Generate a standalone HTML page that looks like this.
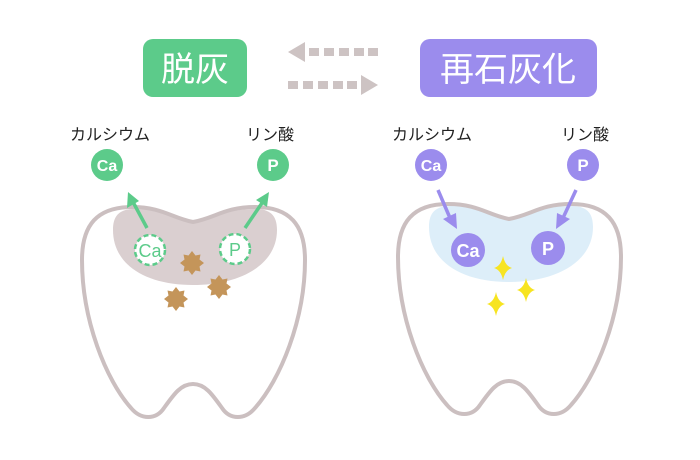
<!DOCTYPE html>
<html><head><meta charset="utf-8"><style>
html,body{margin:0;padding:0;background:#fff;}
svg{display:block;}
text{font-family:"Liberation Sans","Noto Sans CJK JP",sans-serif;}
</style></head><body>
<svg width="700" height="460" viewBox="0 0 700 460" xmlns="http://www.w3.org/2000/svg">
<defs>
<path id="tooth" d="M193,222 C215,218 225,207 255,207 C290,207 305,225 305,260 C305,320 280,380 255,408 C245,420 230,420 222,408 C212,394 205,384 193,384 C181,384 174,394 164,408 C156,420 141,420 131,408 C106,380 82,320 82,260 C82,225 97,207 132,207 C162,207 172,218 193,222 Z"/>
<path id="enamel" d="M193,222 C215,218 225,209 255,209 C270,209 277,215 277,230 C277,265 240,285 193,285 C146,285 113,265 113,230 C113,215 120,209 135,209 C162,209 172,218 193,222 Z"/>
<polygon id="star" points="0,-12 3.5,-7.5 8.5,-8.5 7.5,-3.5 12,0 7.5,3.5 8.5,8.5 3.5,7.5 0,12 -3.5,7.5 -8.5,8.5 -7.5,3.5 -12,0 -7.5,-3.5 -8.5,-8.5 -3.5,-7.5"/>
<path id="spark" d="M0,-12 Q2,-2 9,0 Q2,2 0,12 Q-2,2 -9,0 Q-2,-2 0,-12 Z"/>
</defs>
<!-- header -->
<rect x="143" y="39" width="104" height="58" rx="10" fill="#5ccb8a"/>
<text x="195" y="81" font-size="34" fill="#fff" text-anchor="middle">脱灰</text>
<rect x="420" y="39" width="177" height="58" rx="10" fill="#9b8ced"/>
<text x="508" y="81" font-size="34" fill="#fff" text-anchor="middle">再石灰化</text>
<g fill="#cdc3c3">
<polygon points="288,52 305,42 305,62"/>
<rect x="309" y="48" width="10" height="8"/><rect x="324" y="48" width="10" height="8"/><rect x="339" y="48" width="10" height="8"/><rect x="354" y="48" width="10" height="8"/><rect x="368" y="48" width="10" height="8"/>
<rect x="288" y="81" width="10" height="8"/><rect x="303" y="81" width="10" height="8"/><rect x="318" y="81" width="10" height="8"/><rect x="333" y="81" width="10" height="8"/><rect x="347" y="81" width="10" height="8"/>
<polygon points="378,85 361,75 361,95"/>
</g>
<!-- left tooth -->
<use href="#enamel" fill="#dacfd0"/>
<use href="#tooth" fill="none" stroke="#cbbfc0" stroke-width="4"/>
<text x="110" y="140" font-size="16" fill="#222" text-anchor="middle">カルシウム</text>
<text x="270" y="140" font-size="16" fill="#222" text-anchor="middle">リン酸</text>
<circle cx="107" cy="165" r="16" fill="#5ccb8a"/>
<text x="107" y="171" font-size="16" font-weight="bold" fill="#fff" text-anchor="middle">Ca</text>
<circle cx="273" cy="165" r="16" fill="#5ccb8a"/>
<text x="273" y="171" font-size="17" font-weight="bold" fill="#fff" text-anchor="middle">P</text>
<g stroke="#5ccb8a" stroke-width="3.5" fill="#5ccb8a">
<line x1="147" y1="228" x2="133" y2="202"/><polygon stroke="none" points="128,192 127,208 139,201"/>
<line x1="245" y1="228" x2="262" y2="203"/><polygon stroke="none" points="269,192 256,200 267,207"/>
</g>
<circle cx="150" cy="250" r="15" fill="#fff" stroke="#5ccb8a" stroke-width="2.5" stroke-dasharray="5,3"/>
<text x="150" y="257" font-size="18" fill="#5ccb8a" text-anchor="middle">Ca</text>
<circle cx="235" cy="249" r="15" fill="#fff" stroke="#5ccb8a" stroke-width="2.5" stroke-dasharray="5,3"/>
<text x="235" y="256" font-size="18" fill="#5ccb8a" text-anchor="middle">P</text>
<g fill="#c4955a">
<use href="#star" x="192" y="263"/><use href="#star" x="176" y="299"/><use href="#star" x="219" y="287"/>
</g>
<!-- right tooth -->
<g transform="translate(316,-3)">
<use href="#enamel" fill="#ddeef9"/>
<use href="#tooth" fill="none" stroke="#cbbfc0" stroke-width="4"/>
</g>
<text x="432" y="140" font-size="16" fill="#222" text-anchor="middle">カルシウム</text>
<text x="585" y="140" font-size="16" fill="#222" text-anchor="middle">リン酸</text>
<circle cx="431" cy="165" r="16" fill="#9b8ced"/>
<text x="431" y="171" font-size="16" font-weight="bold" fill="#fff" text-anchor="middle">Ca</text>
<circle cx="583" cy="165" r="16" fill="#9b8ced"/>
<text x="583" y="171" font-size="17" font-weight="bold" fill="#fff" text-anchor="middle">P</text>
<g stroke="#9b8ced" stroke-width="3.5" fill="#9b8ced">
<line x1="438" y1="190" x2="450" y2="218"/><polygon stroke="none" points="457,229 443,219 456,213"/>
<line x1="576" y1="190" x2="563" y2="218"/><polygon stroke="none" points="556,229 557,213 570,219"/>
</g>
<circle cx="468" cy="250" r="17" fill="#9b8ced"/>
<text x="468" y="257" font-size="18" font-weight="bold" fill="#fff" text-anchor="middle">Ca</text>
<circle cx="548" cy="248" r="17" fill="#9b8ced"/>
<text x="548" y="255" font-size="18" font-weight="bold" fill="#fff" text-anchor="middle">P</text>
<g fill="#f7e421">
<use href="#spark" x="503" y="268"/><use href="#spark" x="526" y="290"/><use href="#spark" x="496" y="304"/>
</g>
</svg>
</body></html>
